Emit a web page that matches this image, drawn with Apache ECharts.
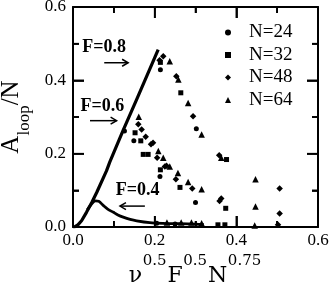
<!DOCTYPE html>
<html><head><meta charset="utf-8">
<script src="https://cdn.jsdelivr.net/npm/echarts@6/dist/echarts.min.js"></script>
<style>html,body{margin:0;padding:0;background:#fff}#c{width:332px;height:287px}</style>
</head><body><div id="c"></div>
<script>
// ---- data ----
const seriesNames = ['N=24', 'N=32', 'N=48', 'N=64'];
const xTicks = [0.0, 0.2, 0.4, 0.6];
const yTicks = [0.0, 0.2, 0.4, 0.6];
const xMinorTicks = [0.1, 0.3, 0.5];
const yMinorTicks = [0.1, 0.3, 0.5];
// collapsed master curve (dense overlapping points): rising branch
const riseCurve = [[0,0],[0.005,0.001],[0.012,0.006],[0.021,0.017],[0.033,0.040],[0.046,0.067],[0.058,0.094],[0.082,0.153],[0.090,0.177],[0.123,0.264],[0.156,0.348],[0.2086,0.484]];
// F=0.4 decaying branch
const tailCurve = [[0.035,0.047],[0.045,0.062],[0.055,0.071],[0.063,0.070],[0.074,0.059],[0.085,0.049],[0.099,0.040],[0.110,0.033],[0.123,0.027],[0.140,0.021],[0.156,0.017],[0.188,0.012],[0.220,0.010],[0.260,0.009],[0.300,0.008],[0.320,0.007]];
const n24 = [[0.214,0.429],[0.302,0.268],[0.149,0.235],[0.213,0.138],[0.300,0.067],[0.126,0.262],[0.205,0.010],[0.250,0.008]];
const n32 = [[0.214,0.449],[0.264,0.366],[0.376,0.184],[0.152,0.257],[0.166,0.235],[0.172,0.198],[0.184,0.198],[0.214,0.156],[0.262,0.108],[0.374,0.051],[0.355,0.006],[0.372,0.006]];
const n48 = [[0.221,0.466],[0.212,0.455],[0.253,0.411],[0.294,0.302],[0.358,0.196],[0.160,0.280],[0.168,0.266],[0.178,0.246],[0.191,0.226],[0.196,0.230],[0.206,0.189],[0.225,0.165],[0.229,0.167],[0.252,0.130],[0.292,0.105],[0.359,0.071],[0.363,0.078],[0.506,0.105],[0.506,0.037],[0.502,0.006]];
const n64 = [[0.237,0.452],[0.258,0.402],[0.282,0.338],[0.315,0.252],[0.363,0.189],[0.161,0.301],[0.209,0.207],[0.221,0.189],[0.237,0.165],[0.257,0.147],[0.282,0.123],[0.315,0.103],[0.447,0.130],[0.447,0.056],[0.445,0.004],[0.230,0.012],[0.265,0.012],[0.290,0.012],[0.315,0.010]];
// annotations: label, label position, arrow start, arrow end (data units)
const annoLabels = ['F=0.8', 'F=0.6', 'F=0.4'];
const annoText = [[0.0765,0.491],[0.0721,0.329],[0.158,0.100]];
const annoFrom = [[0.0765,0.448],[0.0416,0.290],[0.176,0.057]];
const annoTo = [[0.135,0.448],[0.1068,0.290],[0.115,0.057]];
// x-axis title pieces: [text, isSuperscript]
const xTitle = [['ν',0],['0.5',1],['F',0],['0.5',1],['N',0],['0.75',1]];

const SERIF = 'Liberation Serif';
const GRID = {left:73, right:14, top:7, bottom:60};
const chart = echarts.init(document.getElementById('c'));

function ax(pos, main, isX) {
  const t = isX ? xTicks : yTicks;
  const o = {
    type:'value', position:pos, min:t[0], max:t[t.length-1], interval:t[1]-t[0],
    axisLine:{show:true, onZero:false, lineStyle:{color:'#000', width:2}},
    axisTick:{show:true, inside:true, length:11, lineStyle:{color:'#000', width:1.8}},
    minorTick:{show:true, splitNumber:2, length:6, lineStyle:{color:'#000', width:1.8}},
    splitLine:{show:false},
    axisLabel:{show:main, color:'#000', fontFamily:SERIF, fontSize:17, margin:isX?5:7, formatter:v=>v.toFixed(1)}
  };
  if (main && !isX) {
    o.name = '{m|A}{s|loop}{m|/N}';
    o.nameLocation = 'middle'; o.nameGap = 39.5; o.nameRotate = 90;
    o.nameTextStyle = {color:'#000', rich:{
      m:{fontFamily:SERIF, fontSize:25, lineHeight:34.3, color:'#000', verticalAlign:'top'},
      s:{fontFamily:SERIF, fontSize:17, lineHeight:17, color:'#000', verticalAlign:'bottom'}
    }};
  }
  return o;
}

// measured widths of x-title pieces
const mainFont = '22px "DejaVu Serif"', supFont = '15px "DejaVu Serif"';
const mctx = document.createElement('canvas').getContext('2d');
const pieceW = xTitle.map(([t,s])=>{mctx.font = s ? supFont : mainFont; return mctx.measureText(t).width + (s ? 1 : 0.5);});
const titleW = pieceW.reduce((a,b)=>a+b,0);

// inward tick definitions on all four sides
const tickDefs = [];
xTicks.forEach(v=>tickDefs.push({v:v, isY:false, len:11}));
xMinorTicks.forEach(v=>tickDefs.push({v:v, isY:false, len:6}));
yTicks.forEach(v=>tickDefs.push({v:v, isY:true, len:11}));
yMinorTicks.forEach(v=>tickDefs.push({v:v, isY:true, len:6}));
const xMin = xTicks[0], xMax = xTicks[xTicks.length-1], yMin = yTicks[0], yMax = yTicks[yTicks.length-1];

const symbols = ['circle','rect','diamond','triangle'];
const sizes = [5, 5, 6.5, 6.5];
const pts = [n24, n32, n48, n64];

const series = [
  {type:'line', data:riseCurve, showSymbol:false, symbol:'none', lineStyle:{color:'#000', width:3.2}, silent:true, z:3},
  {type:'line', data:tailCurve, showSymbol:false, symbol:'none', smooth:0.3, lineStyle:{color:'#000', width:2.8}, silent:true, z:3}
];
pts.forEach((d,i)=>series.push({type:'scatter', name:seriesNames[i], data:d, symbol:symbols[i], symbolSize:sizes[i], itemStyle:{color:'#000', opacity:1}, z:4}));
// ticks drawn through the axes' scales
series.push({
  type:'custom', coordinateSystem:'cartesian2d', silent:true, z:6, clip:false,
  data: tickDefs.map(d=>d.isY ? [xMin, d.v] : [d.v, yMin]),
  renderItem:(params, api)=>{
    const d = tickDefs[params.dataIndex];
    const st = {stroke:'#000', lineWidth:1.6};
    if (!d.isY) {
      const b = api.coord([d.v, yMin]), t = api.coord([d.v, yMax]);
      return {type:'group', children:[
        {type:'line', shape:{x1:b[0], y1:b[1], x2:b[0], y2:b[1]-d.len}, style:st},
        {type:'line', shape:{x1:t[0], y1:t[1], x2:t[0], y2:t[1]+d.len}, style:st}
      ]};
    }
    const l = api.coord([xMin, d.v]), r = api.coord([xMax, d.v]);
    return {type:'group', children:[
      {type:'line', shape:{x1:l[0], y1:l[1], x2:l[0]+d.len, y2:l[1]}, style:st},
      {type:'line', shape:{x1:r[0], y1:r[1], x2:r[0]-d.len, y2:r[1]}, style:st}
    ]};
  }
});
// annotations (text + arrows) through the axes' scales
series.push({
  type:'custom', coordinateSystem:'cartesian2d', silent:true, z:5, clip:false,
  data: annoText.map(p=>[p[0], p[1]]),
  renderItem:(params, api)=>{
    const i = params.dataIndex;
    const p = api.coord(annoText[i]), a = api.coord(annoFrom[i]), b = api.coord(annoTo[i]);
    const dir = Math.sign(b[0]-a[0]);
    return {type:'group', children:[
      {type:'text', x:p[0], y:p[1], style:{text:annoLabels[i], fill:'#000', font:'bold 18px "Liberation Serif"', textAlign:'center', textVerticalAlign:'middle'}},
      {type:'line', shape:{x1:a[0], y1:a[1], x2:b[0], y2:b[1]}, style:{stroke:'#000', lineWidth:1.5}},
      {type:'polyline', shape:{points:[[b[0]-dir*6, b[1]-3.5],[b[0], b[1]],[b[0]-dir*6, b[1]+3.5]]}, style:{stroke:'#000', lineWidth:1.5, fill:null}}
    ]};
  }
});
// x-axis title centred under the plot, anchored on the axis through its scale
series.push({
  type:'custom', coordinateSystem:'cartesian2d', silent:true, z:5, clip:false,
  data: [[(xMin+xMax)/2, yMin]],
  renderItem:(params, api)=>{
    const c = api.coord([(xMin+xMax)/2, yMin]);
    let x = c[0] - titleW/2;
    const kids = xTitle.map(([t,s],i)=>{
      const el = {type:'text', x:x, y:c[1] + (s ? 34.5 : 49), style:{text:t, font: s ? supFont : mainFont, fill:'#000', textAlign:'left', textVerticalAlign:'middle'}};
      x += pieceW[i];
      return el;
    });
    return {type:'group', children:kids};
  }
});

chart.setOption({
  animation:false,
  grid:Object.assign({outerBoundsMode:'none', containLabel:false}, GRID),
  xAxis:[ax('bottom', true, true), ax('top', false, true)],
  yAxis:[ax('left', true, false), ax('right', false, false)],
  legend:{orient:'vertical', left:220, top:18, itemWidth:6, itemHeight:6, itemGap:3.5,
    data:seriesNames, selectedMode:false,
    textStyle:{fontFamily:SERIF, fontSize:19, lineHeight:16, color:'#000', padding:[0,0,0,13]}},
  series: series
});
</script>
</body></html>
